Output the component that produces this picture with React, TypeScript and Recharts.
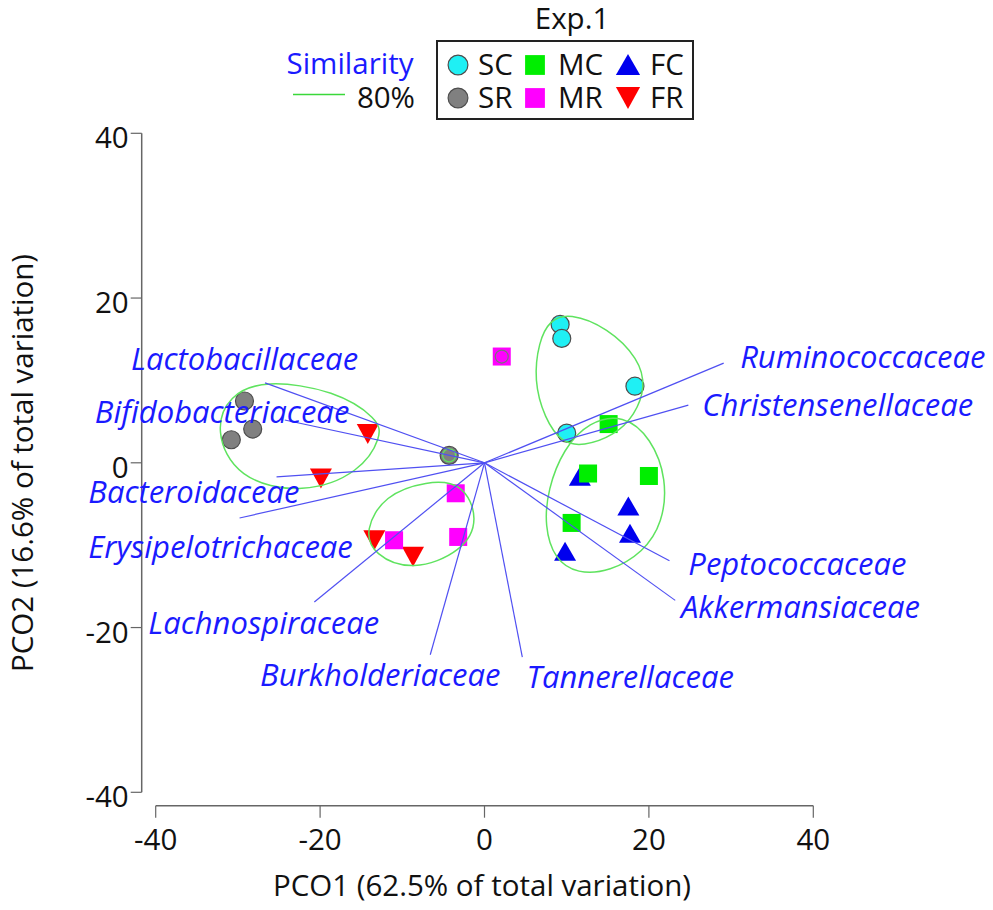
import React from 'react';
import { ScatterChart, Scatter, XAxis, YAxis, ReferenceDot } from 'recharts';

const FONT = '"Open Sans", "Liberation Sans", sans-serif';
const INK = '#111111';
const AXIS = '#666666';
const LABEL_BLUE = '#1a1aff';
const VECTOR_BLUE = '#5050f2';
const CONTOUR_GREEN = '#5fe35f';

const axisTicks = [-40, -20, 0, 20, 40];

// PCO scores per group (PCO1, PCO2)
const scPoints = [
  { x: 9.2, y: 16.8 },
  { x: 9.4, y: 15.1 },
  { x: 18.3, y: 9.3 },
  { x: 10.0, y: 3.6 },
];
const srPoints = [
  { x: -29.2, y: 7.5 },
  { x: -28.2, y: 4.1 },
  { x: -30.8, y: 2.8 },
  { x: -4.3, y: 0.9 },
];
const mcPoints = [
  { x: 15.1, y: 4.7 },
  { x: 12.6, y: -1.3 },
  { x: 20.0, y: -1.6 },
  { x: 10.6, y: -7.3 },
];
const mrPoints = [
  { x: -3.5, y: -3.7 },
  { x: -11.0, y: -9.4 },
  { x: -3.2, y: -9.0 },
  { x: 2.1, y: 12.9 },
];
const fcPoints = [
  { x: 11.6, y: -1.7 },
  { x: 17.5, y: -5.3 },
  { x: 17.7, y: -8.6 },
  { x: 9.8, y: -10.8 },
];
const frPoints = [
  { x: -14.2, y: 3.5 },
  { x: -19.9, y: -1.9 },
  { x: -13.4, y: -9.4 },
  { x: -8.7, y: -11.4 },
];

// correlation vectors (end points) and where their names sit
const vectorNames = [
  'Ruminococcaceae',
  'Christensenellaceae',
  'Lactobacillaceae',
  'Bifidobacteriaceae',
  'Bacteroidaceae',
  'Erysipelotrichaceae',
  'Lachnospiraceae',
  'Burkholderiaceae',
  'Tannerellaceae',
  'Peptococcaceae',
  'Akkermansiaceae',
];
const vectorEnds = [
  [29.1, 12.1],
  [24.8, 7.0],
  [-26.7, 9.7],
  [-24.3, 5.2],
  [-25.3, -1.7],
  [-29.8, -6.7],
  [-20.7, -16.9],
  [-6.6, -23.3],
  [4.6, -23.6],
  [22.5, -11.9],
  [23.2, -16.7],
];
const labelSpots = [
  [31.1, 12.7],
  [26.5, 6.9],
  [-43.0, 12.5],
  [-47.4, 6.1],
  [-48.2, -3.7],
  [-48.2, -10.4],
  [-40.9, -19.6],
  [-27.3, -25.9],
  [5.1, -26.1],
  [24.8, -12.4],
  [23.9, -17.6],
];

// 80% similarity contours (traced)
const contourSR = [
  { x: -26.8, y: 10.1 },
  { x: -18.1, y: 8.8 },
  { x: -12.9, y: 5.3 },
  { x: -12.5, y: 3.2 },
  { x: -15.05, y: -1.15 },
  { x: -22.0, y: -3.85 },
  { x: -30.2, y: -2.0 },
  { x: -32.85, y: 4.0 },
  { x: -31.1, y: 8.2 },
];
const contourMR = [
  { x: -14.6, y: -8.2 },
  { x: -12.2, y: -3.9 },
  { x: -7.0, y: -2.2 },
  { x: -2.65, y: -2.35 },
  { x: -0.6, y: -6.9 },
  { x: -2.65, y: -10.8 },
  { x: -8.75, y: -13.2 },
  { x: -13.5, y: -11.2 },
];
const contourSC = [
  { x: 10.3, y: 18.2 },
  { x: 15.0, y: 16.4 },
  { x: 18.8, y: 12.6 },
  { x: 19.6, y: 9.2 },
  { x: 18.3, y: 5.8 },
  { x: 15.8, y: 3.3 },
  { x: 12.0, y: 2.0 },
  { x: 9.4, y: 2.4 },
  { x: 7.3, y: 5.4 },
  { x: 6.0, y: 10.0 },
  { x: 6.6, y: 14.7 },
  { x: 7.9, y: 17.3 },
];
const contourMF = [
  { x: 16.9, y: 5.9 },
  { x: 20.3, y: 3.0 },
  { x: 22.2, y: -2.0 },
  { x: 21.7, y: -7.3 },
  { x: 19.3, y: -10.9 },
  { x: 15.3, y: -13.2 },
  { x: 11.3, y: -13.5 },
  { x: 8.5, y: -11.7 },
  { x: 7.3, y: -7.7 },
  { x: 7.7, y: -3.2 },
  { x: 9.6, y: 1.7 },
  { x: 12.7, y: 5.0 },
];
const singleContour = [{ x: -4.3, y: 0.9 }];
const overlapRing = [{ x: 2.1, y: 12.9 }];

type Kind = 'circle' | 'square' | 'up' | 'down';

const groups: { key: string; data: { x: number; y: number }[]; color: string; kind: Kind }[] = [
  { key: 'FC', data: fcPoints, color: '#0000ee', kind: 'up' },
  { key: 'MC', data: mcPoints, color: '#00ee00', kind: 'square' },
  { key: 'SC', data: scPoints, color: '#1ff0f4', kind: 'circle' },
  { key: 'SR', data: srPoints, color: '#808080', kind: 'circle' },
  { key: 'FR', data: frPoints, color: '#ff0000', kind: 'down' },
  { key: 'MR', data: mrPoints, color: '#ff00ff', kind: 'square' },
];
const legendKeys = ['SC', 'MC', 'FC', 'SR', 'MR', 'FR'];

function Marker({ kind, cx, cy, fill, k = 1 }: { kind: Kind; cx: number; cy: number; fill: string; k?: number }) {
  if (kind === 'circle') {
    return <circle cx={cx} cy={cy} r={9 * k} fill={fill} stroke="#4d4d4d" strokeWidth={1.2} />;
  }
  if (kind === 'square') {
    return <rect x={cx - 9 * k} y={cy - 9 * k} width={18 * k} height={18 * k} fill={fill} />;
  }
  if (kind === 'up') {
    const p = `${cx},${cy - 10 * k} ${cx + 11 * k},${cy + 9 * k} ${cx - 11 * k},${cy + 9 * k}`;
    return <polygon points={p} fill={fill} />;
  }
  const p = `${cx - 11 * k},${cy - 10 * k} ${cx + 11 * k},${cy - 10 * k} ${cx},${cy + 10 * k}`;
  return <polygon points={p} fill={fill} />;
}

const noShape = () => <g />;

const XTick = (props: any) => (
  <text x={props.x} y={props.y} dy={30} textAnchor="middle" fontSize={29.5} fontFamily={FONT} fill={INK}>
    {props.payload.value}
  </text>
);

const YTick = (props: any) => (
  <text x={props.x} y={props.y} dy={15} textAnchor="end" fontSize={29.5} fontFamily={FONT} fill={INK}>
    {props.payload.value}
  </text>
);

const XTitle = () => (
  <text x={482} y={896} textAnchor="middle" fontSize={29.5} fontFamily={FONT} fill={INK}>
    PCO1 (62.5% of total variation)
  </text>
);

const YTitle = () => (
  <text transform="translate(33,463) rotate(-90)" textAnchor="middle" fontSize={29.5} fontFamily={FONT} fill={INK}>
    PCO2 (16.6% of total variation)
  </text>
);

function LegendBlock() {
  const colX = [458, 535, 628];
  const textX = [478, 558, 650];
  const rowY = [65, 98];
  return (
    <svg width={993} height={130} style={{ position: 'absolute', left: 0, top: 0 }}>
      <text x={572} y={29} textAnchor="middle" fontSize={29.5} fontFamily={FONT} fill={INK}>
        Exp.1
      </text>
      <rect x={437} y={41} width={256} height={78} fill="none" stroke="#222" strokeWidth={2} />
      {legendKeys.map((key, i) => {
        const g = groups.find((d) => d.key === key)!;
        const col = i % 3;
        const row = Math.floor(i / 3);
        return (
          <g key={key}>
            <Marker kind={g.kind} cx={colX[col]} cy={rowY[row]} fill={g.color} k={1.1} />
            <text x={textX[col]} y={rowY[row] + 10} fontSize={29.5} fontFamily={FONT} fill={INK}>
              {key}
            </text>
          </g>
        );
      })}
      <text x={350} y={74} textAnchor="middle" fontSize={29.5} fontFamily={FONT} fill={LABEL_BLUE}>
        Similarity
      </text>
      <line x1={293} x2={345} y1={94.5} y2={94.5} stroke="#3ad83a" strokeWidth={1.5} />
      <text x={415} y={107.5} textAnchor="end" fontSize={29.5} fontFamily={FONT} fill={INK}>
        80%
      </text>
    </svg>
  );
}

export default function App() {
  const contours = [contourSR, contourMR, contourSC, contourMF];
  return (
    <div style={{ position: 'absolute', left: 0, top: 0, width: 993, height: 910, background: '#fff' }}>
      <ScatterChart width={993} height={910} margin={{ top: 133.3, right: 179.7, bottom: 0, left: 0 }}>
        <XAxis
          type="number"
          dataKey="x"
          domain={[-40, 40]}
          ticks={axisTicks}
          interval={0}
          height={104.3}
          padding={{ left: 14, right: 0 }}
          axisLine={{ stroke: AXIS, strokeWidth: 1.5, strokeDasharray: '0 14 700' }}
          tickLine={{ stroke: AXIS, strokeWidth: 1.2 }}
          tickSize={12}
          tick={XTick}
          label={<XTitle />}
        />
        <YAxis
          type="number"
          dataKey="y"
          domain={[-40, 40]}
          ticks={axisTicks}
          interval={0}
          width={141.7}
          padding={{ top: 0, bottom: 13.4 }}
          axisLine={{ stroke: AXIS, strokeWidth: 1.5, strokeDasharray: '659 40' }}
          tickLine={{ stroke: AXIS, strokeWidth: 1.2 }}
          tickSize={11}
          tick={YTick}
          label={<YTitle />}
        />
        {groups.map((g) => (
          <Scatter
            key={g.key}
            name={g.key}
            data={g.data}
            isAnimationActive={false}
            shape={(p: any) => <Marker kind={g.kind} cx={p.cx} cy={p.cy} fill={g.color} />}
          />
        ))}
        <Scatter
          data={overlapRing}
          isAnimationActive={false}
          shape={(p: any) => <circle cx={p.cx} cy={p.cy} r={6.5} fill="none" stroke="#777" strokeWidth={1.2} />}
        />
        <Scatter
          data={singleContour}
          isAnimationActive={false}
          shape={(p: any) => <circle cx={p.cx} cy={p.cy} r={6.5} fill="none" stroke={CONTOUR_GREEN} strokeWidth={1.3} />}
        />
        {contours.map((c, i) => (
          <Scatter
            key={`contour-${i}`}
            data={c}
            isAnimationActive={false}
            shape={noShape}
            line={{ stroke: CONTOUR_GREEN, strokeWidth: 1.5 }}
            lineType="joint"
            lineJointType="basisClosed"
          />
        ))}
        {vectorEnds.map((v, i) => (
          <Scatter
            key={`vec-${i}`}
            data={[
              { x: 0, y: 0 },
              { x: v[0], y: v[1] },
            ]}
            isAnimationActive={false}
            shape={noShape}
            line={{ stroke: VECTOR_BLUE, strokeWidth: 1.2 }}
            lineType="joint"
          />
        ))}
        {vectorNames.map((name, i) => (
          <ReferenceDot
            key={name}
            x={labelSpots[i][0]}
            y={labelSpots[i][1]}
            ifOverflow="visible"
            shape={(p: any) => (
              <text x={p.cx} y={p.cy} dy={10} fontSize={31} fontStyle="italic" fontFamily={FONT} fill={LABEL_BLUE}>
                {name}
              </text>
            )}
          />
        ))}
      </ScatterChart>
      <LegendBlock />
    </div>
  );
}
